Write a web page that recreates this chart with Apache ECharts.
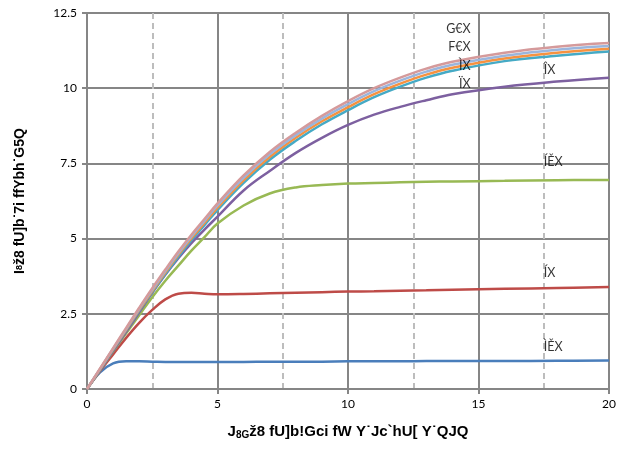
<!DOCTYPE html>
<html><head><meta charset="utf-8">
<script src="https://cdn.jsdelivr.net/npm/echarts@6/dist/echarts.min.js"></script>
<style>html,body{margin:0;padding:0;background:#fff}#c{width:619px;height:457px}</style>
</head><body><div id="c"></div>
<script>
const vds = [0,0.5,1,1.5,2,2.5,3,3.5,4,4.5,5,6,7,8,9,10,11,12,13,14,16,18,20];
const idBlue   = [0,0.55,0.85,0.92,0.92,0.91,0.9,0.9,0.9,0.9,0.9,0.9,0.91,0.91,0.91,0.92,0.92,0.92,0.93,0.93,0.93,0.94,0.95];
const idRed    = [0,0.6,1.15,1.7,2.2,2.63,2.98,3.17,3.2,3.17,3.15,3.16,3.18,3.2,3.22,3.24,3.25,3.27,3.28,3.3,3.33,3.36,3.39];
const idGreen  = [0,0.62,1.25,1.85,2.45,3.05,3.6,4.1,4.6,5.05,5.5,6.1,6.5,6.7,6.78,6.83,6.85,6.87,6.89,6.9,6.92,6.94,6.95];
const idPurple = [0,0.63,1.27,1.9,2.55,3.2,3.8,4.35,4.85,5.3,5.73,6.6,7.25,7.85,8.35,8.78,9.12,9.38,9.6,9.8,10.05,10.22,10.35];
const idTeal   = [0,0.65,1.3,1.95,2.6,3.22,3.82,4.4,4.95,5.45,5.95,6.85,7.62,8.25,8.8,9.27,9.7,10.05,10.35,10.58,10.9,11.08,11.22];
const idOrange = [0,0.66,1.32,1.97,2.63,3.26,3.87,4.46,5.01,5.52,6.03,6.94,7.71,8.35,8.9,9.37,9.8,10.15,10.45,10.68,10.99,11.18,11.31];
const idLtBlue = [0,0.67,1.34,2.0,2.67,3.3,3.92,4.51,5.07,5.59,6.1,7.02,7.8,8.44,8.99,9.47,9.9,10.25,10.55,10.78,11.08,11.28,11.4];
const idPink   = [0,0.68,1.36,2.03,2.7,3.35,3.97,4.57,5.13,5.65,6.17,7.1,7.88,8.52,9.08,9.57,10.0,10.35,10.65,10.88,11.18,11.38,11.5];

const labelTexts = ['G€X','F€X','ÌX','ÏX','ÎX','ÍĚX','ÍX','ÌĚX'];
const labelX     = [14.7,14.7,14.7,14.7,17.5,17.5,17.5,17.5];
const labelY     = [11.97,11.37,10.74,10.14,10.6,7.55,3.86,1.4];
const labelAlign = ['right','right','right','right','left','left','left','left'];

const seriesDefs = [
  [idBlue,'#4a7ebb'],[idRed,'#be4b48'],[idGreen,'#98b954'],[idPurple,'#7d60a0'],
  [idTeal,'#46aac5'],[idOrange,'#f69240'],[idLtBlue,'#9bb5dc'],[idPink,'#d59a9b']
];
const series = seriesDefs.map(([ys,c]) => ({
  type:'line', smooth:0.4, symbol:'none',
  data: vds.map((x,i)=>[x,ys[i]]),
  lineStyle:{color:c,width:2.5}, itemStyle:{color:c}, z:3
}));
series.push({
  type:'scatter', symbolSize:0, z:5,
  data: labelTexts.map((t,i)=>({name:t,value:[labelX[i],labelY[i]],
    label:{show:true,position:'inside',align:labelAlign[i],verticalAlign:'middle',formatter:'{b}',
      color:'#000',fontSize:12.5,fontFamily:'Lato'}}))
});
const gray = '#868686';
const chart = echarts.init(document.getElementById('c'));
chart.setOption({
  animation:false,
  grid:{left:87,right:8,top:13,bottom:68},
  xAxis:{type:'value',min:0,max:20,interval:5,
    name:'J{s|8G}ž8 fU]b!Gci fW Y˙Jc`hU[ Y˙QJQ',nameLocation:'middle',nameGap:34,
    nameTextStyle:{fontSize:15,fontWeight:'bold',color:'#000',fontFamily:'Liberation Sans',
      rich:{s:{fontSize:10,fontWeight:'bold',verticalAlign:'bottom',padding:[7,0,0,0],fontFamily:'Liberation Sans'}}},
    axisLine:{lineStyle:{color:gray,width:2}},
    axisTick:{show:true,length:5,lineStyle:{color:gray,width:2}},
    axisLabel:{color:'#000',fontSize:12,fontFamily:'Lato',margin:9},
    splitLine:{show:true,lineStyle:{color:gray,width:2}},
    minorTick:{show:false,splitNumber:2},
    minorSplitLine:{show:true,lineStyle:{color:'#bdbdbd',width:2,type:[6,4]}}
  },
  yAxis:{type:'value',min:0,max:12.5,interval:2.5,
    name:'I{s|8}ž8 fU]b˙7i ffYbh˙G5Q',nameLocation:'middle',nameGap:60,nameRotate:90,
    nameTextStyle:{fontSize:14,fontWeight:'bold',color:'#000',fontFamily:'Liberation Sans',
      rich:{s:{fontSize:9,fontWeight:'bold',fontFamily:'Liberation Sans'}}},
    axisLine:{show:true,lineStyle:{color:gray,width:2}},
    axisTick:{show:true,length:5,lineStyle:{color:gray,width:2}},
    axisLabel:{color:'#000',fontSize:12,fontFamily:'Lato',margin:10},
    splitLine:{show:true,lineStyle:{color:gray,width:2}}
  },
  series
});
</script></body></html>
